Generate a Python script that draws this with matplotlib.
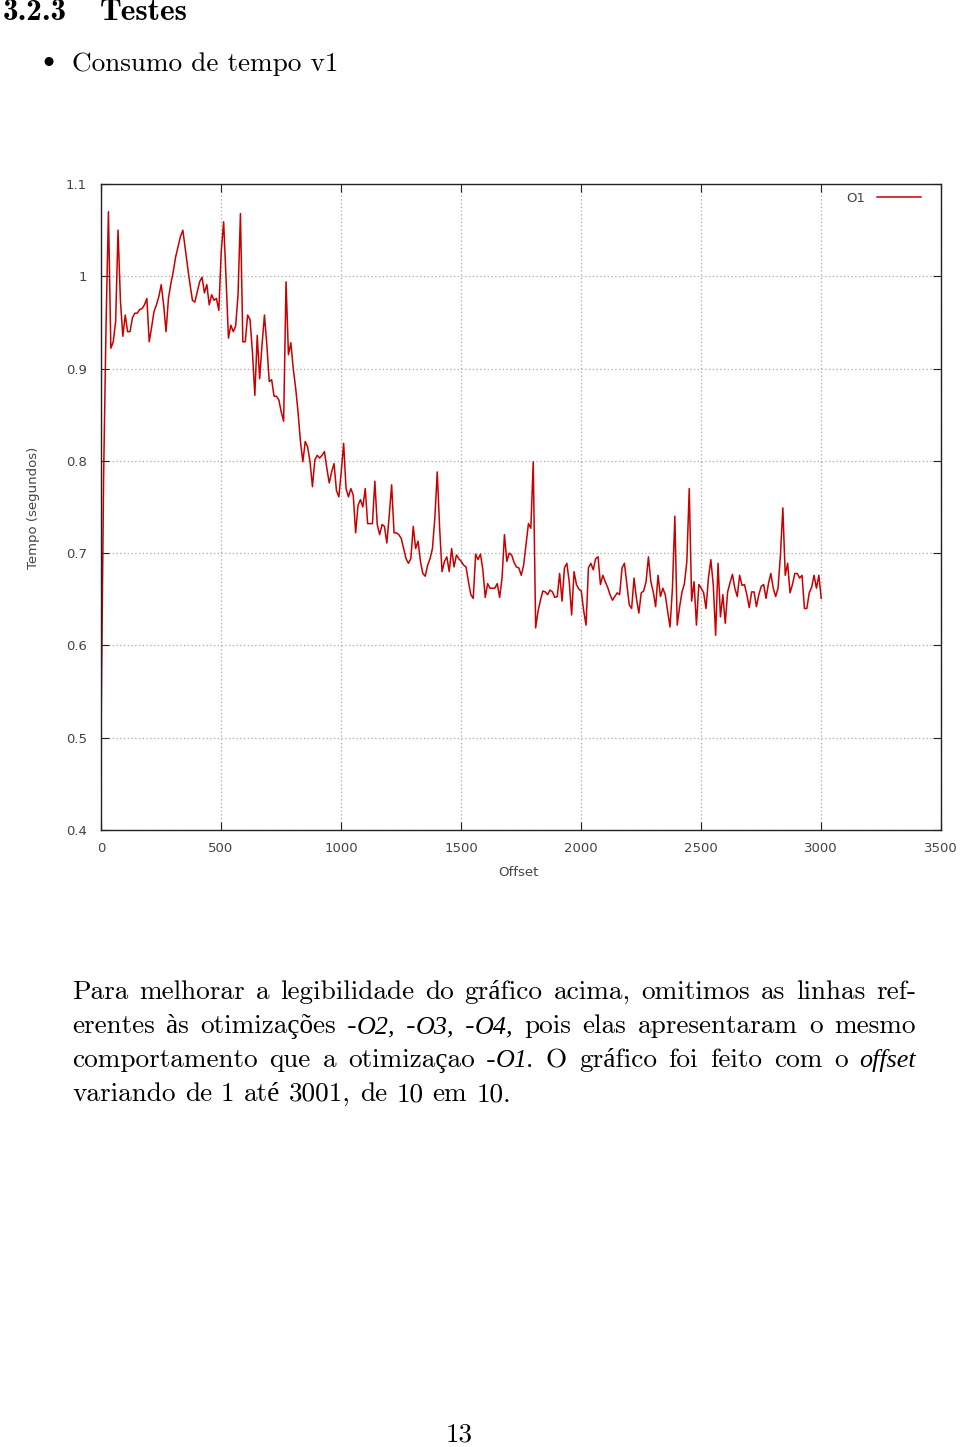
import numpy as np
import matplotlib
matplotlib.use("Agg")
import matplotlib.pyplot as plt
from matplotlib.font_manager import FontProperties

# ---------------- data ----------------
offsets = np.arange(1, 3002, 10)  # offset 1..3001 step 10
tempo_o1 = [
    0.530, 0.785, 0.947, 1.070, 0.922, 0.929, 0.951, 1.050, 0.973, 0.935,
    0.958, 0.940, 0.940, 0.955, 0.960, 0.960, 0.964, 0.965, 0.969, 0.976,
    0.929, 0.945, 0.962, 0.969, 0.978, 0.991, 0.969, 0.940, 0.976, 0.992,
    1.005, 1.021, 1.032, 1.043, 1.050, 1.030, 1.010, 0.991, 0.974, 0.972,
    0.983, 0.994, 0.999, 0.982, 0.991, 0.969, 0.980, 0.974, 0.976, 0.963,
    1.027, 1.059, 0.998, 0.933, 0.947, 0.940, 0.946, 0.980, 1.068, 0.929,
    0.929, 0.958, 0.953, 0.918, 0.871, 0.936, 0.889, 0.926, 0.958, 0.926,
    0.886, 0.888, 0.870, 0.870, 0.866, 0.853, 0.843, 0.994, 0.915, 0.928,
    0.900, 0.879, 0.853, 0.821, 0.799, 0.821, 0.815, 0.799, 0.772, 0.801,
    0.806, 0.803, 0.806, 0.810, 0.792, 0.776, 0.788, 0.797, 0.768, 0.761,
    0.788, 0.819, 0.770, 0.761, 0.770, 0.763, 0.722, 0.752, 0.758, 0.750,
    0.770, 0.732, 0.732, 0.732, 0.778, 0.731, 0.720, 0.731, 0.729, 0.711,
    0.741, 0.774, 0.722, 0.722, 0.720, 0.716, 0.705, 0.694, 0.689, 0.694,
    0.729, 0.705, 0.713, 0.691, 0.678, 0.675, 0.687, 0.694, 0.705, 0.738,
    0.788, 0.727, 0.680, 0.691, 0.696, 0.680, 0.705, 0.685, 0.698, 0.694,
    0.691, 0.687, 0.685, 0.669, 0.655, 0.651, 0.699, 0.693, 0.699, 0.682,
    0.652, 0.667, 0.662, 0.662, 0.662, 0.667, 0.652, 0.673, 0.720, 0.691,
    0.700, 0.698, 0.690, 0.685, 0.684, 0.676, 0.687, 0.709, 0.732, 0.727,
    0.799, 0.619, 0.637, 0.649, 0.659, 0.658, 0.655, 0.660, 0.658, 0.652,
    0.653, 0.678, 0.648, 0.684, 0.689, 0.669, 0.633, 0.680, 0.666, 0.661,
    0.659, 0.638, 0.622, 0.684, 0.689, 0.682, 0.694, 0.696, 0.666, 0.676,
    0.669, 0.663, 0.655, 0.649, 0.653, 0.657, 0.655, 0.684, 0.689, 0.666,
    0.644, 0.640, 0.673, 0.651, 0.635, 0.657, 0.659, 0.669, 0.696, 0.669,
    0.658, 0.642, 0.676, 0.653, 0.662, 0.655, 0.637, 0.620, 0.662, 0.740,
    0.622, 0.642, 0.658, 0.667, 0.691, 0.770, 0.648, 0.669, 0.622, 0.666,
    0.662, 0.657, 0.640, 0.673, 0.693, 0.666, 0.611, 0.689, 0.631, 0.655,
    0.624, 0.658, 0.668, 0.677, 0.662, 0.653, 0.676, 0.665, 0.666, 0.655,
    0.641, 0.658, 0.658, 0.642, 0.655, 0.664, 0.666, 0.651, 0.667, 0.678,
    0.662, 0.653, 0.662, 0.698, 0.749, 0.676, 0.689, 0.657, 0.666, 0.678,
    0.678, 0.673, 0.676, 0.640, 0.640, 0.657, 0.663, 0.676, 0.662, 0.676,
    0.651,
]
x_ticks = [0, 500, 1000, 1500, 2000, 2500, 3000, 3500]
x_tick_labels = ["0", "500", "1000", "1500", "2000", "2500", "3000", "3500"]
y_ticks = [0.4, 0.5, 0.6, 0.7, 0.8, 0.9, 1.0, 1.1]
y_tick_labels = ["0.4", "0.5", "0.6", "0.7", "0.8", "0.9", "1", "1.1"]
series_label = "O1"
x_label = "Offset"
y_label = "Tempo (segundos)"

heading_num = "3.2.3"
heading_title = "Testes"
bullet_text = "Consumo de tempo v1"
page_number = "13"

# ---------------- page ----------------
W, H = 960, 1447
fig = plt.figure(figsize=(W / 100, H / 100), dpi=100)
fig.patch.set_facecolor("white")

def fx(px):
    return px / W

def fy(py):
    return 1 - py / H

BODY = 19.6
rm = FontProperties(family=["cmr10", "Liberation Serif"], size=BODY)
it = FontProperties(family="Liberation Serif", style="italic", size=BODY * 0.96)
bf = FontProperties(family=["cmb10", "Liberation Serif"], size=22.5)

# ---------------- chart ----------------
ax = fig.add_axes([fx(101), fy(830), 840 / W, 646 / H])
ax.plot(offsets, tempo_o1, color="#c80000", lw=1.1, label=series_label)
ax.set_xlim(0, 3500)
ax.set_ylim(0.4, 1.1)
ax.set_xticks(x_ticks)
ax.set_xticklabels(x_tick_labels)
ax.set_yticks(y_ticks)
ax.set_yticklabels(y_tick_labels)
ax.grid(True, color="#a8a8a8", linestyle=(0, (1, 2)), lw=0.9)
ax.tick_params(direction="in", length=6, width=0.8, top=True, right=True,
               labelsize=9.5, labelcolor="#444444", color="#222222")
ax.tick_params(axis="x", pad=8.5)
ax.tick_params(axis="y", pad=10)
for s in ax.spines.values():
    s.set_color("#222222")
    s.set_linewidth(1.0)
for lab in ax.get_xticklabels() + ax.get_yticklabels():
    lab.set_family("DejaVu Sans")

ax.set_xlabel(x_label, fontsize=9.5, color="#444444")
ax.xaxis.set_label_coords((518 - 101) / 840, (830 - 873) / 646)
ax.xaxis.label.set_va("center")
ax.set_ylabel(y_label, fontsize=9.5, color="#444444")
ax.yaxis.set_label_coords((33 - 101) / 840, (830 - 508) / 646)
ax.yaxis.label.set_va("center")

leg = ax.legend(loc="center right",
                bbox_to_anchor=((921 - 101) / 840, 1 - (198 - 184) / 646),
                frameon=False, markerfirst=False, borderpad=0, borderaxespad=0,
                handlelength=3.3, handletextpad=0.9,
                prop={"family": "DejaVu Sans", "size": 9.5})
for t in leg.get_texts():
    t.set_color("#444444")

# ---------------- text ----------------
fig.canvas.draw()
renderer = fig.canvas.get_renderer()

def width_of(s, fp):
    t = fig.text(0, 0, s, fontproperties=fp)
    w = t.get_window_extent(renderer).width
    t.remove()
    return w

space_w = width_of("a a", rm) - width_of("aa", rm)

def draw_line(y_base, words, x0, x1=None):
    widths = [sum(width_of(s, fp) for s, fp in w) for w in words]
    if x1 is not None and len(words) > 1:
        gap = (x1 - x0 - sum(widths)) / (len(words) - 1)
    else:
        gap = space_w
    x = x0
    for w, wd in zip(words, widths):
        xx = x
        for s, fp in w:
            fig.text(fx(xx), fy(y_base), s, fontproperties=fp,
                     ha="left", va="baseline", color="black")
            xx += width_of(s, fp)
        x += wd + gap

def plain(line):
    return [[(w, rm)] for w in line.split(" ")]

# heading
fig.text(fx(3), fy(20), heading_num, fontproperties=bf, ha="left", va="baseline")
fig.text(fx(100), fy(20), heading_title, fontproperties=bf, ha="left", va="baseline")

# bullet
fig.text(fx(48), fy(64), "\u2022", family="DejaVu Sans", fontsize=22,
         ha="center", va="center", color="black")
fig.text(fx(72), fy(71), bullet_text, fontproperties=rm, ha="left", va="baseline")

# paragraph
L, R = 72, 916
line1 = plain("Para melhorar a legibilidade do gráfico acima, omitimos as linhas ref-")
line2 = (plain("erentes às otimizações")
         + [[("-", rm), ("O2,", it)], [("-", rm), ("O3,", it)], [("-", rm), ("O4,", it)]]
         + plain("pois elas apresentaram o mesmo"))
line3 = (plain("comportamento que a otimizaçao")
         + [[("-", rm), ("O1.", it)]]
         + plain("O gráfico foi feito com o")
         + [[("offset", it)]])
line4 = plain("variando de 1 até 3001, de 10 em 10.")

draw_line(999, line1, L, R)
draw_line(1033, line2, L, R)
draw_line(1067, line3, L, R)
draw_line(1101, line4, L, None)

fig.text(fx(459), fy(1442), page_number, fontproperties=rm, ha="center", va="baseline")

fig.savefig("out.png", dpi=100, facecolor="white")
